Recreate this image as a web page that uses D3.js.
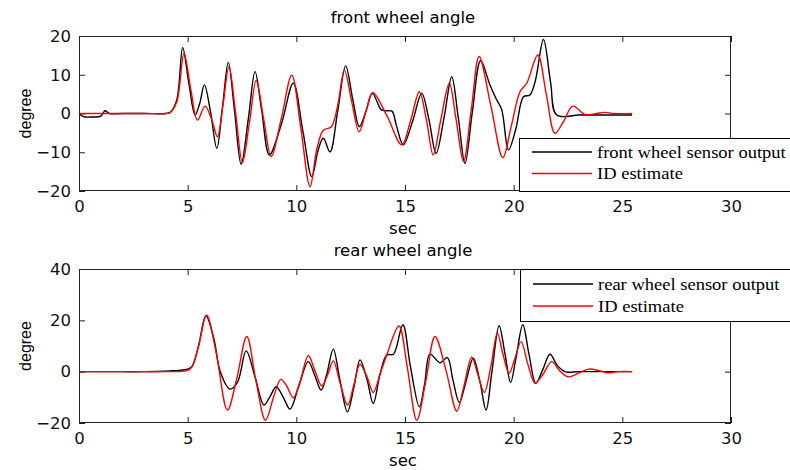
<!DOCTYPE html>
<html>
<head>
<meta charset="utf-8">
<script src="https://cdn.jsdelivr.net/npm/d3@7"></script>
<style>
  html, body { margin: 0; padding: 0; background: #fff; }
  svg { display: block; }
</style>
</head>
<body>
<svg id="chart" width="790" height="470"></svg>
<script>
// Front wheel angle: sensor output (time s, degree)
const frontSensorT = [0, 0.2, 0.6, 1.0, 1.2, 1.4, 2.0, 3.0, 4.0, 4.2, 4.5, 4.77, 5.05, 5.34, 5.55, 5.77, 6.05, 6.34, 6.6, 6.87, 7.15, 7.46, 7.8, 8.1, 8.4, 8.76, 9.3, 9.86, 10.3, 10.71, 11.0, 11.24, 11.55, 11.9, 12.27, 12.6, 12.9, 13.2, 13.5, 13.9, 14.1, 14.4, 14.6, 14.92, 15.35, 15.77, 16.1, 16.43, 16.8, 17.15, 17.45, 17.76, 18.1, 18.48, 18.9, 19.22, 19.45, 19.76, 20.1, 20.45, 20.75, 21.0, 21.37, 21.7, 21.98, 23.0, 24.0, 25.45];
const frontSensorV = [0, -0.8, -0.9, -0.7, 0.7, 0, 0, 0, 0, 0.3, 3.5, 17.0, 8.0, -0.4, 2.5, 7.4, 0.5, -9.0, 1.5, 13.2, 1.0, -13.1, -1.0, 10.8, 1.0, -10.7, -3.0, 7.8, -4.5, -16.3, -9.5, -6.4, -9.9, 0.5, 12.3, 3.5, -3.4, 0.5, 5.2, 1.0, 0.7, 0.6, -3.0, -8.1, -2.0, 5.2, -1.5, -10.3, -1.0, 9.5, -1.0, -12.9, 0.5, 13.6, 7.5, 3.5, 1.0, -9.4, -4.0, 4.3, 4.8, 8.5, 19.1, 8.0, -0.4, -0.4, -0.4, -0.4];

// Front wheel angle: ID estimate
const frontEstT = [0, 1.0, 2.0, 3.0, 4.0, 4.2, 4.5, 4.83, 5.15, 5.45, 5.8, 6.1, 6.37, 6.62, 6.9, 7.2, 7.52, 7.85, 8.15, 8.5, 8.84, 9.3, 9.79, 10.2, 10.63, 10.95, 11.24, 11.6, 11.9, 12.21, 12.55, 12.89, 13.2, 13.51, 14.16, 14.85, 15.25, 15.66, 15.98, 16.3, 16.65, 17.04, 17.35, 17.69, 18.05, 18.41, 18.95, 19.5, 19.9, 20.29, 20.6, 21.11, 21.5, 21.9, 22.3, 22.72, 23.3, 23.8, 24.2, 24.6, 25.45];
const frontEstV = [0, 0, 0, 0, 0, 0.3, 3.0, 15.5, 6.0, -1.7, 1.9, -1.5, -6.0, 2.0, 12.1, 0.5, -12.7, -2.0, 8.5, -1.5, -11.1, -1.5, 9.9, -3.5, -18.9, -9.0, -4.3, -3.5, 2.0, 11.2, 3.0, -4.7, 0.5, 5.4, -0.5, -8.1, -2.0, 5.6, -1.5, -10.7, -1.5, 7.8, -1.5, -12.4, 1.0, 14.7, 2.0, -11.4, -3.0, 5.6, 7.8, 15.1, 5.0, -5.1, -2.0, 1.9, -0.3, 0, 0.3, 0, 0];

// Rear wheel angle: sensor output
const rearSensorT = [0, 1.0, 2.0, 3.0, 4.2, 4.6, 5.0, 5.2, 5.5, 5.84, 6.2, 6.5, 6.95, 7.3, 7.69, 8.1, 8.51, 8.8, 9.07, 9.4, 9.71, 10.1, 10.55, 10.85, 11.14, 11.4, 11.7, 12.0, 12.35, 12.65, 12.93, 13.25, 13.54, 13.85, 14.16, 14.47, 14.9, 15.25, 15.66, 15.9, 16.15, 16.61, 16.95, 17.2, 17.5, 17.8, 18.14, 18.45, 18.73, 19.0, 19.33, 19.6, 19.86, 20.1, 20.42, 20.7, 21.02, 21.35, 21.67, 22.0, 22.36, 23.0, 24.0, 25.45];
const rearSensorV = [0, 0, 0, 0, 0.3, 0.5, 1.0, 2.0, 10.0, 21.8, 13.0, 0.0, -6.8, -4.0, 8.1, -2.0, -13.0, -9.5, -5.9, -10.0, -14.6, -6.0, 3.9, -1.5, -7.2, -1.0, 8.8, -3.0, -15.6, -6.0, 4.6, -3.0, -12.4, -1.0, 6.5, 6.8, 18.3, 2.0, -13.7, -5.0, 6.8, 3.5, 5.5, -3.0, -12.0, -4.0, 5.2, -4.0, -15.0, 0.0, 17.9, 7.0, -4.2, 5.0, 18.3, 7.0, -4.5, 1.0, 6.8, 2.5, 0, 0, 0, 0];

// Rear wheel angle: ID estimate
const rearEstT = [0, 1.0, 2.0, 3.0, 4.0, 5.0, 5.2, 5.5, 5.87, 6.3, 6.83, 7.25, 7.72, 8.15, 8.58, 8.95, 9.28, 9.55, 9.86, 10.2, 10.55, 10.85, 11.17, 11.45, 11.7, 12.0, 12.36, 12.65, 12.93, 13.25, 13.54, 13.85, 14.16, 14.72, 15.1, 15.54, 15.95, 16.38, 16.9, 17.38, 17.7, 18.07, 18.35, 18.65, 18.95, 19.25, 19.5, 19.79, 20.05, 20.34, 20.65, 20.98, 21.35, 21.75, 22.1, 22.5, 23.0, 23.44, 23.9, 24.3, 24.8, 25.45];
const rearEstV = [0, 0, 0, 0, 0, 0.5, 2.0, 10.0, 22.0, 8.0, -15.0, -3.0, 13.7, -4.0, -18.9, -10.0, -3.0, -5.5, -10.2, -3.0, 6.3, 0.5, -5.5, -1.0, 4.2, -4.0, -13.0, -5.0, 2.9, -2.0, -8.1, -1.0, 6.5, 17.8, 2.0, -18.9, -4.0, 13.7, 0.0, -15.4, -6.0, 5.6, -1.0, -8.1, 2.0, 15.0, 7.0, -0.6, 5.0, 11.7, 3.0, -4.5, -1.0, 3.9, 0.5, -2.0, -0.5, 1.0, 0.5, -0.4, 0, 0];

// Axis ticks
const xTicks = [0, 5, 10, 15, 20, 25, 30];
const frontYTicks = [-20, -10, 0, 10, 20];
const rearYTicks = [-20, 0, 20, 40];

const svg = d3.select("#chart");
const SANS = "'DejaVu Sans', sans-serif";
const SERIF = "'Liberation Serif', 'Times New Roman', serif";

const x = d3.scaleLinear().domain([0, 30]).range([79, 731]);

function panel(opts) {
  const y = d3.scaleLinear().domain(opts.yDomain).range([opts.bottom, opts.top]);
  const g = svg.append("g");

  // title
  g.append("text")
    .attr("x", 403).attr("y", opts.top - 13)
    .attr("text-anchor", "middle")
    .attr("font-family", SANS).attr("font-size", 16.5)
    .text(opts.title);

  // inward ticks on all four sides
  const axB = d3.axisBottom(x).tickValues(xTicks).tickSize(-6).tickPadding(9).tickFormat(d3.format("d"));
  const axT = d3.axisTop(x).tickValues(xTicks).tickSize(-6).tickFormat("");
  const axL = d3.axisLeft(y).tickValues(opts.yTicks).tickSize(-6).tickPadding(8).tickFormat(d3.format("d"));
  const axR = d3.axisRight(y).tickValues(opts.yTicks).tickSize(-6).tickFormat("");

  const styleAxis = sel => {
    sel.select(".domain").remove();
    sel.selectAll(".tick line").attr("stroke", "#222").attr("stroke-width", 1);
    sel.selectAll(".tick text").attr("fill", "#111")
      .attr("font-family", SANS).attr("font-size", 16.5);
  };
  g.append("g").attr("transform", `translate(0,${opts.bottom})`).call(axB).call(styleAxis);
  g.append("g").attr("transform", `translate(0,${opts.top})`).call(axT).call(styleAxis);
  g.append("g").attr("transform", `translate(79,0)`).call(axL).call(styleAxis);
  g.append("g").attr("transform", `translate(731,0)`).call(axR).call(styleAxis);

  // plot box
  g.append("rect")
    .attr("x", 79.5).attr("y", opts.top + 0.5)
    .attr("width", 651).attr("height", opts.bottom - opts.top - 1)
    .attr("fill", "none").attr("stroke", "#222").attr("stroke-width", 1);

  // x label
  g.append("text")
    .attr("x", 403).attr("y", opts.bottom + 43)
    .attr("text-anchor", "middle")
    .attr("font-family", SANS).attr("font-size", 16.5)
    .text("sec");

  // y label
  const yc = (opts.top + opts.bottom) / 2;
  g.append("text")
    .attr("transform", `translate(31,${yc}) rotate(-90)`)
    .attr("text-anchor", "middle")
    .attr("font-family", "'Liberation Sans', Arial, sans-serif").attr("font-size", 16)
    .text("degree");

  const line = d3.line()
    .x(d => x(d[0])).y(d => y(d[1]))
    .curve(d3.curveCatmullRom.alpha(0.5));

  const traces = g.append("g");
  traces.append("path")
    .attr("d", line(d3.zip(opts.sensT, opts.sensV)))
    .attr("fill", "none").attr("stroke", "#000").attr("stroke-width", 1.4);
  traces.append("path")
    .attr("d", line(d3.zip(opts.estT, opts.estV)))
    .attr("fill", "none").attr("stroke", "#ff0000").attr("stroke-width", 1.4);

  // legend
  const L = opts.legend;
  const lg = g.append("g");
  lg.append("rect")
    .attr("x", L.x + 0.5).attr("y", L.y + 0.5)
    .attr("width", 280).attr("height", L.h)
    .attr("fill", "#fff").attr("stroke", "#000").attr("stroke-width", 1);
  const entries = [
    { label: opts.sensLabel, color: "#000", dy: L.row1 },
    { label: "ID estimate", color: "#ff0000", dy: L.row2 }
  ];
  entries.forEach(e => {
    lg.append("line")
      .attr("x1", L.x + 13).attr("x2", L.x + 73)
      .attr("y1", L.y + e.dy).attr("y2", L.y + e.dy)
      .attr("stroke", e.color).attr("stroke-width", 1.3);
    lg.append("text")
      .attr("transform", `translate(${L.x + 78},${L.y + e.dy + 5.5}) scale(1.09,1)`)
      .attr("font-family", SERIF).attr("font-size", 17)
      .attr("fill", "#000")
      .text(e.label);
  });
}

panel({
  title: "front wheel angle",
  top: 36, bottom: 191,
  yDomain: [-20, 20], yTicks: frontYTicks,
  sensT: frontSensorT, sensV: frontSensorV,
  estT: frontEstT, estV: frontEstV,
  sensLabel: "front wheel sensor output",
  legend: { x: 519, y: 138, h: 53, row1: 14, row2: 35.5 }
});

panel({
  title: "rear wheel angle",
  top: 269, bottom: 423,
  yDomain: [-20, 40], yTicks: rearYTicks,
  sensT: rearSensorT, sensV: rearSensorV,
  estT: rearEstT, estV: rearEstV,
  sensLabel: "rear wheel sensor output",
  legend: { x: 520, y: 269, h: 52, row1: 15, row2: 37 }
});
</script>
</body>
</html>
